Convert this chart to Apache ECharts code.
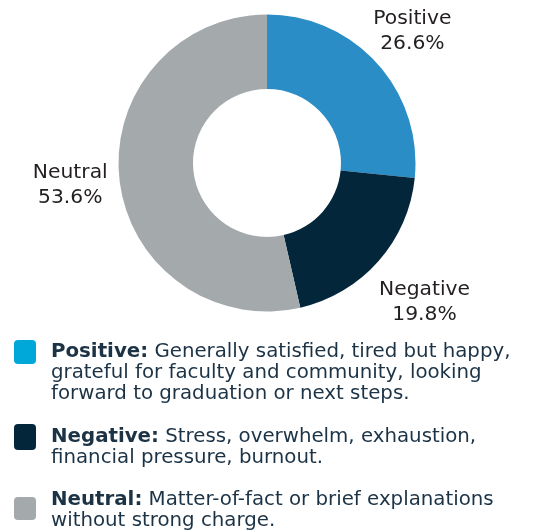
<!DOCTYPE html>
<html>
<head>
<meta charset="utf-8">
<script src="https://cdn.jsdelivr.net/npm/echarts@6/dist/echarts.min.js"></script>
<style>
html,body{margin:0;padding:0;background:#fff;}
#chart{width:536px;height:531px;}
</style>
</head>
<body>
<div id="chart"></div>
<script>
const categories = ['Positive', 'Negative', 'Neutral'];
const values = [26.6, 19.8, 53.6];
const sliceColors = ['#2a8dc5', '#03263a', '#a4a9ac'];
const legendColors = ['#00a8da', '#03263a', '#a4a9ac'];
const legendTitles = ['Positive:', 'Negative:', 'Neutral:'];
const legendDescriptions = [
  'Generally satisfied, tired but happy,\ngrateful for faculty and community, looking\nforward to graduation or next steps.',
  'Stress, overwhelm, exhaustion,\nfinancial pressure, burnout.',
  'Matter-of-fact or brief explanations\nwithout strong charge.'
];

const CX = 267, CY = 163, R_OUT = 148.5, R_IN = 74;
const LABEL_R = [196, 210, 198];
const total = values.reduce((a, b) => a + b, 0);
const midAngles = [];
let acc = 0;
values.forEach(v => { midAngles.push((acc + v / 2) / total * 2 * Math.PI); acc += v; });

const chart = echarts.init(document.getElementById('chart'), null, {renderer: 'canvas'});

const squareTops = [340, 424, 497];
const squareHeights = [24, 26, 23];
const textTops = [341, 426, 489];
const graphics = [];
categories.forEach((c, i) => {
  graphics.push({
    type: 'rect',
    shape: {x: 14, y: squareTops[i], width: 22, height: squareHeights[i], r: 4},
    style: {fill: legendColors[i]}
  });
  graphics.push({
    type: 'text',
    x: 51, y: textTops[i],
    style: {
      text: '{b|' + legendTitles[i] + '} ' + legendDescriptions[i],
      fontFamily: 'DejaVu Sans',
      fontSize: 19.8,
      lineHeight: 21,
      fill: '#1c3346',
      verticalAlign: 'top',
      align: 'left',
      rich: {
        b: {fontFamily: 'DejaVu Sans', fontWeight: 'bold', fontSize: 19.8, lineHeight: 21, fill: '#1c3346'}
      }
    }
  });
});

chart.setOption({
  animation: false,
  backgroundColor: '#ffffff',
  graphic: graphics,
  series: [{
    type: 'pie',
    center: [CX, CY],
    radius: [R_IN, R_OUT],
    startAngle: 90,
    clockwise: true,
    avoidLabelOverlap: false,
    silent: true,
    data: categories.map((c, i) => ({name: c, value: values[i], itemStyle: {color: sliceColors[i]}})),
    label: {
      show: true,
      position: 'outside',
      formatter: p => p.name + '\n' + p.value.toFixed(1) + '%',
      fontFamily: 'DejaVu Sans',
      fontSize: 20.3,
      lineHeight: 25,
      color: '#231f20',
      align: 'center'
    },
    labelLine: {show: false},
    labelLayout: function (params) {
      const i = params.dataIndex;
      const a = midAngles[i];
      return {
        x: CX + LABEL_R[i] * Math.sin(a),
        y: CY - LABEL_R[i] * Math.cos(a),
        align: 'center',
        verticalAlign: 'middle'
      };
    }
  }]
});
</script>
</body>
</html>
